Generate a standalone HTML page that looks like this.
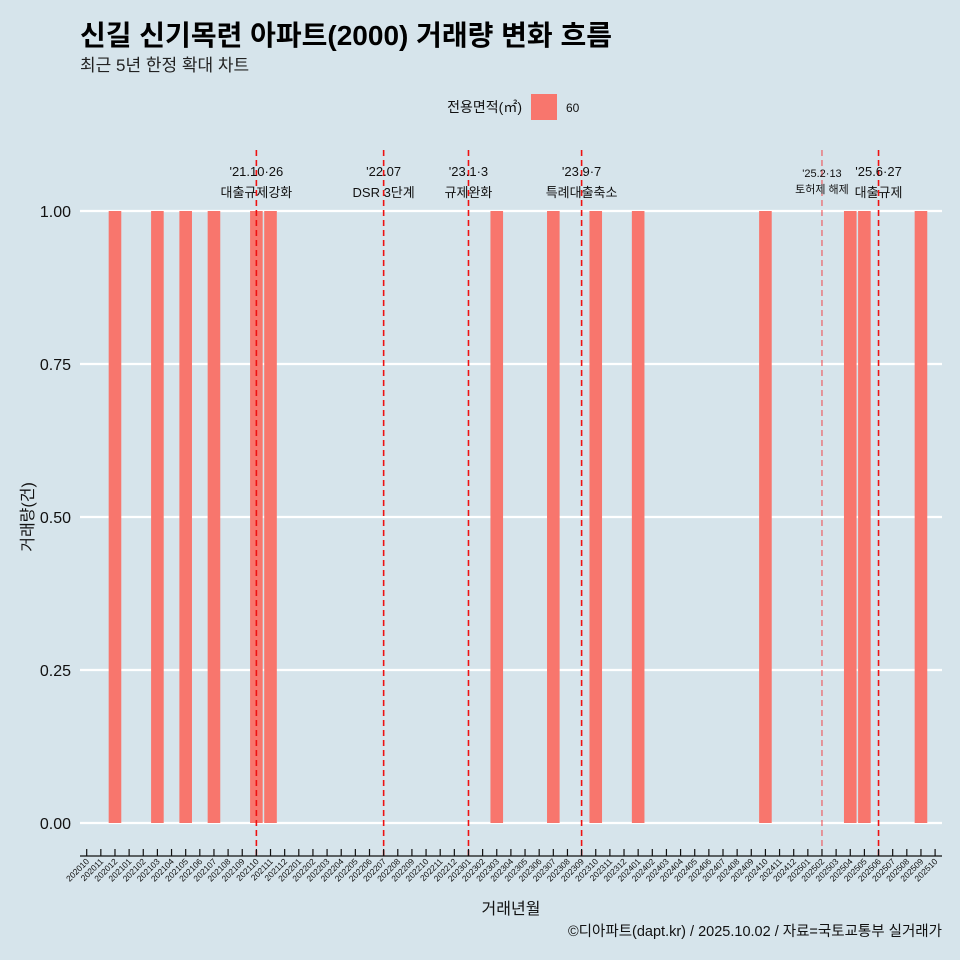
<!DOCTYPE html>
<html><head><meta charset="utf-8"><style>
body{margin:0;background:#d6e4eb;}
svg{display:block;font-family:"Liberation Sans","Noto Sans CJK KR",sans-serif;}
</style></head><body>
<svg id="chart" width="960" height="960" viewBox="0 0 960 960">
<rect width="960" height="960" fill="#d6e4eb"/>
<text x="80" y="45" font-size="28" font-weight="bold" fill="#000">신길 신기목련 아파트(2000) 거래량 변화 흐름</text>
<text x="80" y="71" font-size="17" fill="#222">최근 5년 한정 확대 차트</text>
<g>
<text x="522" y="112" font-size="14" text-anchor="end" fill="#111">전용면적(㎡)</text>
<rect x="531" y="94" width="26" height="26" fill="#f8766d"/>
<text x="566" y="112" font-size="12" fill="#111">60</text>
</g>
<g id="grid"></g><g id="bars"></g><g id="events"></g><g id="axes"></g>
<text x="511" y="914" font-size="16" text-anchor="middle" fill="#111">거래년월</text>
<text transform="translate(33,517) rotate(-90)" font-size="16" text-anchor="middle" fill="#111">거래량(건)</text>
<text x="942" y="936" font-size="14.5" text-anchor="end" fill="#111">©디아파트(dapt.kr) / 2025.10.02 / 자료=국토교통부 실거래가</text>
</svg>
<script>
const months = [];
for (let y = 2020, m = 10; y * 100 + m <= 202510; ) { months.push(String(y * 100 + m)); m++; if (m > 12) { m = 1; y++; } }
const barMonths = ["202012","202103","202105","202107","202110","202111","202303","202307","202310","202401","202410","202504","202505","202509"];
const barValues = [1,1,1,1,1,1,1,1,1,1,1,1,1,1];
const yTicks = [0, 0.25, 0.5, 0.75, 1.0];
const yTickLabels = ["0.00","0.25","0.50","0.75","1.00"];
const eventMonths = ["202110","202207","202301","202309","202502","202506"];
const eventLine1 = ["'21.10·26","'22.07","'23.1·3","'23.9·7","'25.2·13","'25.6·27"];
const eventLine2 = ["대출규제강화","DSR 3단계","규제완화","특례대출축소","토허제 해제","대출규제"];

const NS = "http://www.w3.org/2000/svg";
const X0 = 86.7, STEP = 14.14;
const xPos = mo => X0 + months.indexOf(mo) * STEP;
const yPos = v => 823 - v * 612;
function mk(tag, attrs, parent, txt) { const e = document.createElementNS(NS, tag); for (const k in attrs) e.setAttribute(k, attrs[k]); if (txt != null) e.textContent = txt; parent.appendChild(e); return e; }

const grid = document.getElementById("grid"), bars = document.getElementById("bars"), ev = document.getElementById("events"), axes = document.getElementById("axes");
yTicks.forEach((t, i) => {
  const l = mk("line", {x1: 80, x2: 942, y1: yPos(t), y2: yPos(t), stroke: "#fff", "stroke-width": 2.2}, grid);
  
  
  const tx = mk("text", {x: 71, y: yPos(t) + 6, "font-size": 16, "text-anchor": "end", fill: "#111"}, axes, yTickLabels[i]);
  
  
});
barMonths.forEach((mo, i) => {
  const cx = xPos(mo), w = 12.6;
  const r = mk("rect", {x: cx - w / 2, y: yPos(barValues[i]), width: w, height: yPos(0) - yPos(barValues[i]), fill: "#f8766d"}, bars);
  
  
});
eventMonths.forEach((mo, i) => {
  const x = xPos(mo), thin = mo === "202502";
  const l = mk("line", {x1: x, x2: x, y1: 150, y2: 856, stroke: thin ? "#f0454a" : "#ee1111", "stroke-width": thin ? 1 : 1.6, "stroke-dasharray": "6,4"}, ev);
  
  
  const fs = thin ? 11 : 13;
  const t1 = mk("text", {x: x, y: thin ? 177 : 176, "font-size": fs, "text-anchor": "middle", fill: "#111"}, ev, eventLine1[i]);
  
  
  const t2 = mk("text", {x: x, y: thin ? 193 : 197, "font-size": fs, "text-anchor": "middle", fill: "#111"}, ev, eventLine2[i]);
  
  
});
const ax = mk("line", {x1: 80, x2: 942, y1: 856, y2: 856, stroke: "#111", "stroke-width": 1.2}, axes);


months.forEach(mo => {
  const x = xPos(mo);
  const tk = mk("line", {x1: x, x2: x, y1: 849, y2: 856, stroke: "#111", "stroke-width": 1.2}, axes);
  
  
  const t = mk("text", {x: x + 3, y: 862, "font-size": 8.5, "text-anchor": "end", fill: "#111", transform: `rotate(-45 ${x + 3} 862)`}, axes, mo);
  
  
});
</script>
</body></html>
